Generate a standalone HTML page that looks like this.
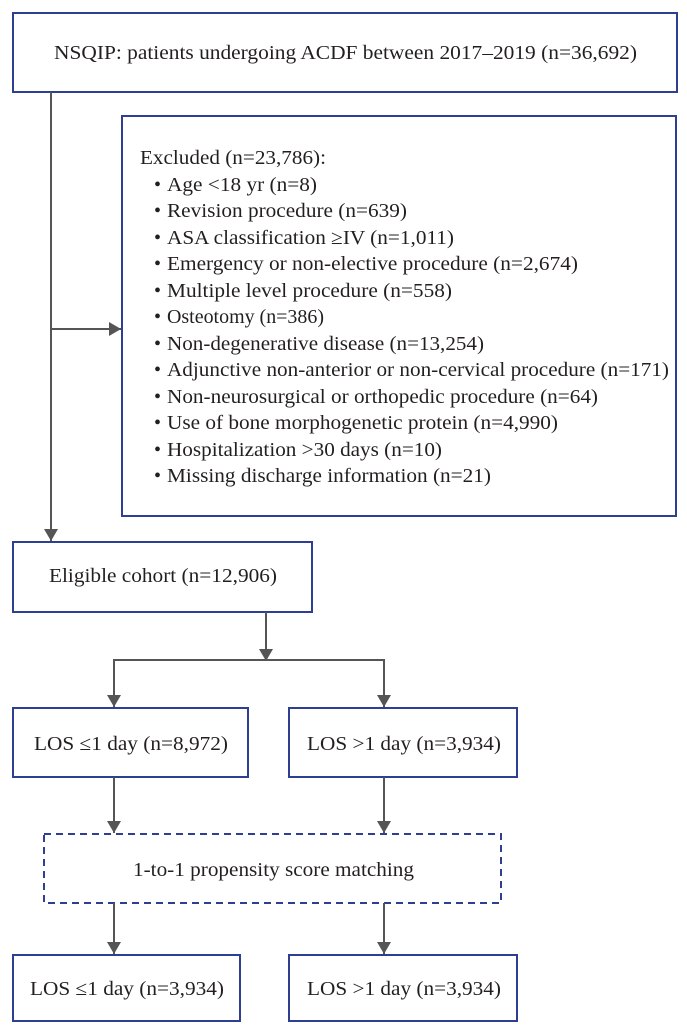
<!DOCTYPE html>
<html><head><meta charset="utf-8"><style>
html,body{margin:0;padding:0;background:#fff;}
svg{display:block;}
text{font-family:"Liberation Serif",serif;font-size:20px;fill:#231f20;}
</style></head><body>
<svg width="687" height="1034" viewBox="0 0 687 1034" xmlns="http://www.w3.org/2000/svg">
<defs>
<marker id="ah" viewBox="0 0 12 14" refX="12" refY="7" markerWidth="12" markerHeight="14" markerUnits="userSpaceOnUse" orient="auto">
<path d="M0,0 L12,7 L0,14 z" fill="#555"/>
</marker>
</defs>
<g fill="none" stroke="#2e3f92" stroke-width="2">
<rect x="13" y="13" width="664" height="79"/>
<rect x="122" y="116" width="554" height="400"/>
<rect x="13" y="542" width="299" height="70"/>
<rect x="13" y="708" width="235" height="69"/>
<rect x="289" y="708" width="228" height="69"/>
<rect x="44" y="834" width="457" height="69" stroke-dasharray="7,5"/>
<rect x="13" y="955" width="227" height="66"/>
<rect x="289" y="955" width="228" height="66"/>
</g>
<g fill="none" stroke="#555" stroke-width="2">
<line x1="51" y1="92" x2="51" y2="541" marker-end="url(#ah)"/>
<line x1="51" y1="329" x2="121" y2="329" marker-end="url(#ah)"/>
<line x1="266" y1="612" x2="266" y2="661" marker-end="url(#ah)"/>
<polyline points="114,707 114,660 384,660 384,707"/>
<line x1="114" y1="670" x2="114" y2="707" marker-end="url(#ah)"/>
<line x1="384" y1="670" x2="384" y2="707" marker-end="url(#ah)"/>
<line x1="114" y1="777" x2="114" y2="833" marker-end="url(#ah)"/>
<line x1="384" y1="777" x2="384" y2="833" marker-end="url(#ah)"/>
<line x1="114" y1="903" x2="114" y2="954" marker-end="url(#ah)"/>
<line x1="384" y1="903" x2="384" y2="954" marker-end="url(#ah)"/>
</g>
<text x="54" y="59" textLength="583" lengthAdjust="spacingAndGlyphs">NSQIP: patients undergoing ACDF between 2017–2019 (n=36,692)</text>
<text x="140" y="164" textLength="186" lengthAdjust="spacingAndGlyphs">Excluded (n=23,786):</text>
<g>
<text x="154" y="191">•</text><text x="167" y="191" textLength="150" lengthAdjust="spacingAndGlyphs">Age &lt;18 yr (n=8)</text>
<text x="154" y="217">•</text><text x="167" y="217" textLength="240" lengthAdjust="spacingAndGlyphs">Revision procedure (n=639)</text>
<text x="154" y="244">•</text><text x="167" y="244" textLength="287" lengthAdjust="spacingAndGlyphs">ASA classification ≥IV (n=1,011)</text>
<text x="154" y="270">•</text><text x="167" y="270" textLength="411" lengthAdjust="spacingAndGlyphs">Emergency or non-elective procedure (n=2,674)</text>
<text x="154" y="297">•</text><text x="167" y="297" textLength="285" lengthAdjust="spacingAndGlyphs">Multiple level procedure (n=558)</text>
<text x="154" y="323">•</text><text x="167" y="323" textLength="157" lengthAdjust="spacingAndGlyphs">Osteotomy (n=386)</text>
<text x="154" y="350">•</text><text x="167" y="350" textLength="317" lengthAdjust="spacingAndGlyphs">Non-degenerative disease (n=13,254)</text>
<text x="154" y="376">•</text><text x="167" y="376" textLength="502" lengthAdjust="spacingAndGlyphs">Adjunctive non-anterior or non-cervical procedure (n=171)</text>
<text x="154" y="403">•</text><text x="167" y="403" textLength="431" lengthAdjust="spacingAndGlyphs">Non-neurosurgical or orthopedic procedure (n=64)</text>
<text x="154" y="429">•</text><text x="167" y="429" textLength="391" lengthAdjust="spacingAndGlyphs">Use of bone morphogenetic protein (n=4,990)</text>
<text x="154" y="456">•</text><text x="167" y="456" textLength="275" lengthAdjust="spacingAndGlyphs">Hospitalization &gt;30 days (n=10)</text>
<text x="154" y="482">•</text><text x="167" y="482" textLength="324" lengthAdjust="spacingAndGlyphs">Missing discharge information (n=21)</text>
</g>
<text x="49" y="582" textLength="228" lengthAdjust="spacingAndGlyphs">Eligible cohort (n=12,906)</text>
<text x="34" y="750" textLength="194" lengthAdjust="spacingAndGlyphs">LOS ≤1 day (n=8,972)</text>
<text x="307" y="750" textLength="194" lengthAdjust="spacingAndGlyphs">LOS &gt;1 day (n=3,934)</text>
<text x="133" y="876" textLength="281" lengthAdjust="spacingAndGlyphs">1-to-1 propensity score matching</text>
<text x="30" y="995" textLength="194" lengthAdjust="spacingAndGlyphs">LOS ≤1 day (n=3,934)</text>
<text x="307" y="995" textLength="194" lengthAdjust="spacingAndGlyphs">LOS &gt;1 day (n=3,934)</text>
</svg>
</body></html>
